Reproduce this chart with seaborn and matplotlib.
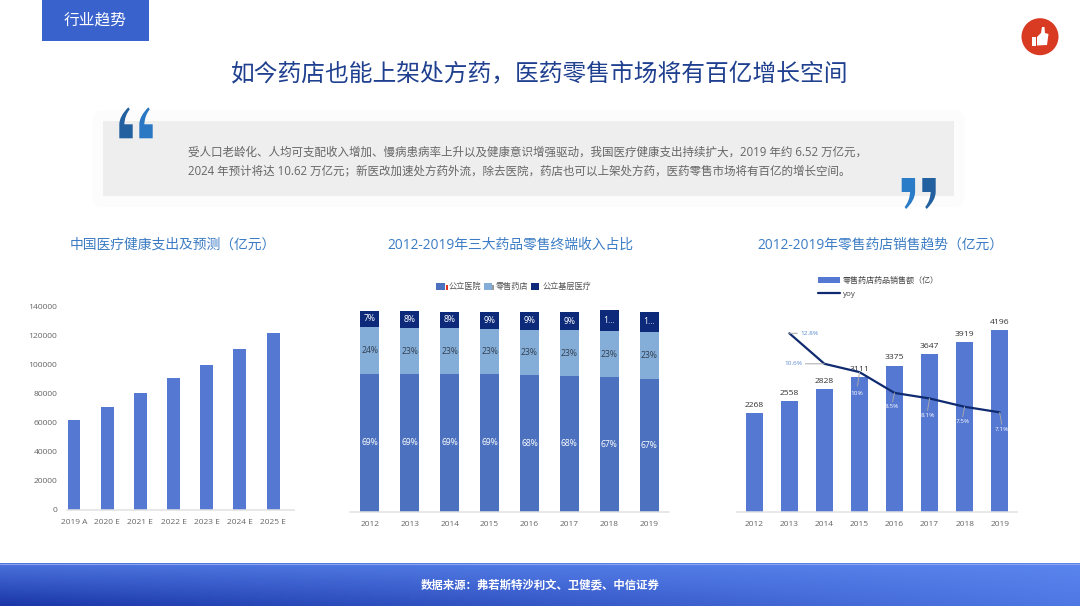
import numpy as np
import matplotlib
matplotlib.use("Agg")
import matplotlib.pyplot as plt
from matplotlib.patches import Rectangle, Circle, Polygon, PathPatch, FancyBboxPatch
from matplotlib.path import Path
from matplotlib.lines import Line2D
import seaborn as sns

# ---------- data ----------
spend_cats = ["2019 A", "2020 E", "2021 E", "2022 E", "2023 E", "2024 E", "2025 E"]
spend_vals = [61700, 70500, 80100, 91000, 100000, 110800, 121600]

years = ["2012", "2013", "2014", "2015", "2016", "2017", "2018", "2019"]
hospital = [69.0, 68.8, 69.0, 68.8, 68.5, 68.0, 67.5, 66.5]
retail = [23.5, 23.0, 22.7, 22.5, 22.3, 22.7, 22.7, 23.3]
primary = [8.0, 8.7, 8.3, 8.8, 9.3, 9.3, 10.5, 10.3]
hospital_labels = ["69%", "69%", "69%", "69%", "68%", "68%", "67%", "67%"]
retail_labels = ["24%", "23%", "23%", "23%", "23%", "23%", "23%", "23%"]
primary_labels = ["7%", "8%", "8%", "9%", "9%", "9%", "1...", "1..."]

sales = [2268, 2558, 2828, 3111, 3375, 3647, 3919, 4196]
yoy = [12.8, 10.6, 10.0, 8.5, 8.1, 7.5, 7.1]
yoy_labels = ["12.8%", "10.6%", "10%", "8.5%", "8.1%", "7.5%", "7.1%"]

main_title = "如今药店也能上架处方药，医药零售市场将有百亿增长空间"
tab_text = "行业趋势"
body_1 = "受人口老龄化、人均可支配收入增加、慢病患病率上升以及健康意识增强驱动，我国医疗健康支出持续扩大，2019 年约 6.52 万亿元，"
body_2 = "2024 年预计将达 10.62 万亿元；新医改加速处方药外流，除去医院，药店也可以上架处方药，医药零售市场将有百亿的增长空间。"
title_1 = "中国医疗健康支出及预测（亿元）"
title_2 = "2012-2019年三大药品零售终端收入占比"
title_3 = "2012-2019年零售药店销售趋势（亿元）"
source = "数据来源：弗若斯特沙利文、卫健委、中信证券"

# ---------- styles ----------
sns.set_theme(style="white")
plt.rcParams["font.family"] = ["Open Sans", "Noto Sans CJK SC", "DejaVu Sans"]
W, H = 1080, 606
BAR = "#5578D2"
C_HOSP, C_RETAIL, C_PRIM = "#4C72BF", "#84AED8", "#0D2A7A"
LINE = "#0F2A70"
TICK = "#666666"
AXIS = "#E2E2E2"
SUB = "#3B7CC4"

fig = plt.figure(figsize=(W / 100, H / 100), dpi=100, facecolor="white")


def px_axes(left, right, top, bottom, z=2):
    a = fig.add_axes([left / W, 1 - bottom / H, (right - left) / W, (bottom - top) / H], zorder=z)
    a.patch.set_alpha(0)
    return a


# ---------- page decoration ----------
bg = px_axes(0, W, 0, H, z=0)
bg.set_xlim(0, W)
bg.set_ylim(H, 0)
bg.axis("off")
bg.add_patch(Rectangle((42, 0), 106.5, 40.5, fc="#3A62CC", ec="none"))
bg.text(95.5, 20.5, tab_text, color="white", fontsize=11.3, ha="center", va="center")
bg.text(540, 75, main_title, color="#1F3F8F", fontsize=17.1, ha="center", va="center")
bg.add_patch(FancyBboxPatch((92, 110), 873, 97, boxstyle="round,pad=0,rounding_size=12", fc="#FCFCFC", ec="none"))
bg.add_patch(Rectangle((103, 121.3), 851, 74.7, fc="#EEEEEE", ec="none"))
bg.text(188, 152, body_1, color="#666666", fontsize=8.3, ha="left", va="center")
bg.text(188, 171, body_2, color="#666666", fontsize=8.3, ha="left", va="center")


def quote(x0, top, color, flip=False):
    w, h = 13.4, 31
    v = [(0, h), (0, 17), (0, 9), (9, 0), (10.5, 2), (5.5, 8), (5, 17), (13.4, 17), (13.4, h), (0, h)]
    c = [Path.MOVETO, Path.LINETO, Path.CURVE3, Path.CURVE3, Path.LINETO, Path.CURVE3, Path.CURVE3,
         Path.LINETO, Path.LINETO, Path.CLOSEPOLY]
    if flip:
        v = [(w - a, h - b) for a, b in v]
    pts = [(x0 + a, top + b) for a, b in v]
    bg.add_patch(PathPatch(Path(pts, c), fc=color, ec="none", zorder=3))


quote(119.3, 107.3, "#22609F")
quote(139.3, 107.3, "#2A78C4")
quote(901.7, 178, "#2A7CC9", flip=True)
quote(922.3, 178, "#22609F", flip=True)

bg.add_patch(Circle((1040, 36.7), 18.5, fc="#D93A22", ec="none"))
bg.add_patch(Rectangle((1032.3, 37.3), 3.4, 8.7, fc="white", ec="none", zorder=3))
bg.add_patch(Polygon([(1037, 37), (1041, 33), (1042, 27), (1044.5, 27), (1045, 33), (1048.5, 34),
                      (1047, 45), (1037, 45.5)], fc="white", ec="none", zorder=3))

# footer gradient: bilinear blend of four corner colours
tl, tr = np.array([0x4A, 0x72, 0xDC]) / 255, np.array([0x5A, 0x84, 0xEE]) / 255
bl, br = np.array([0x1A, 0x36, 0xA8]) / 255, np.array([0x4F, 0x78, 0xE4]) / 255
gu, gv = np.meshgrid(np.linspace(0, 1, 270), np.linspace(0, 1, 43))
gu, gv = gu[..., None], gv[..., None]
grad = (1 - gv) * ((1 - gu) * tl + gu * tr) + gv * ((1 - gu) * bl + gu * br)
bg.imshow(grad, extent=(0, W, 606, 563.5), aspect="auto", interpolation="bilinear", zorder=1)
bg.set_xlim(0, W)
bg.set_ylim(H, 0)
bg.add_line(Line2D([0, W], [563.5, 563.5], color="#8AA5EE", lw=0.8, zorder=2))
bg.text(540, 586, source, color="white", fontsize=8.2, fontweight="bold", ha="center", va="center", zorder=3)

for tx, t in ((173, title_1), (510, title_2), (880.5, title_3)):
    bg.text(tx, 245.5, t, color=SUB, fontsize=9.95, ha="center", va="center")

# legend slivers seen beside the chart-2 keys
for sx, sc in ((446, "#E03020"), (491.5, "#999999"), (537, "#888888")):
    bg.add_patch(Rectangle((sx, 284.5), 2, 5, fc=sc, ec="none"))


def style(a):
    sns.despine(ax=a, left=True, top=True, right=True)
    a.spines["bottom"].set_color(AXIS)
    a.spines["bottom"].set_linewidth(1.1)
    a.tick_params(axis="x", length=0, pad=6.5, labelsize=6, labelcolor=TICK)
    a.set_xlabel("")
    a.set_ylabel("")
    a.grid(False)


# ---------- chart 1 ----------
ax1 = px_axes(57.4, 294, 306.7, 509.5)
sns.barplot(x=spend_cats, y=spend_vals, color=BAR, saturation=1, width=0.39, linewidth=0, ax=ax1)
ax1.set_xlim(-0.5, 6.63)
ax1.set_ylim(0, 140000)
ax1.set_yticks(np.arange(0, 140001, 20000))
style(ax1)
ax1.spines["bottom"].set_bounds(-0.22, 6.63)
ax1.tick_params(axis="y", length=0, pad=0, labelsize=6.1, labelcolor=TICK)

# ---------- chart 2 ----------
ax2 = px_axes(350, 669, 300, 511.7)
base1 = np.array(hospital)
base2 = base1 + np.array(retail)
sns.barplot(x=years, y=hospital, color=C_HOSP, saturation=1, width=0.476, linewidth=0, label="公立医院", ax=ax2)
sns.barplot(x=years, y=retail, bottom=base1, color=C_RETAIL, saturation=1, width=0.476, linewidth=0, label="零售药店", ax=ax2)
sns.barplot(x=years, y=primary, bottom=base2, color=C_PRIM, saturation=1, width=0.476, linewidth=0, label="公立基层医疗", ax=ax2)
ax2.set_ylim(0, 105.85)
ax2.set_yticks([])
style(ax2)
for cont, labs, col in zip(ax2.containers, (hospital_labels, retail_labels, primary_labels),
                           ("white", "#333F50", "white")):
    ax2.bar_label(cont, labels=labs, label_type="center", color=col, fontsize=6.2)
ax2.legend(ncol=3, loc="center", bbox_to_anchor=(514 / W, 1 - 287 / H), bbox_transform=fig.transFigure,
           frameon=False, fontsize=5.9, handlelength=1.0, handleheight=0.95, handletextpad=0.45,
           columnspacing=0.35, labelcolor="#555555", borderpad=0)

# ---------- chart 3 ----------
ax3 = px_axes(736.8, 1017.2, 320, 511.7)
sns.barplot(x=years, y=sales, color=BAR, saturation=1, width=0.476, linewidth=0, ax=ax3)
ax3.set_ylim(0, 4427)
ax3.set_yticks([])
style(ax3)
ax3.bar_label(ax3.containers[0], labels=[str(v) for v in sales], padding=3, color="#333333", fontsize=6.1)

ax3b = ax3.twinx()
ax3b.patch.set_alpha(0)
line_pos = np.arange(1, len(years))
sns.lineplot(x=line_pos, y=yoy, color=LINE, linewidth=1.6, ax=ax3b)
ax3b.set_ylim(-0.07, 13.76)
ax3b.set_yticks([])
ax3b.set_ylabel("")
sns.despine(ax=ax3b, left=True, top=True, right=True, bottom=True)
ax3b.set_xlim(-0.5, 7.5)

offsets = [(20, 0), (-31, 0), (-3, -21), (-3, -14), (-2, -17), (-2, -15), (2, -17)]
anchors = [(8, 0), (-19, 0), (-2, -14), (-2, -9), (-2, -12), (-2, -10), (2, -12)]
cols = ["#5B8BD0", "#5B8BD0", "white", "white", "white", "white", "white"]
for x, v, lab, off, anc, col in zip(line_pos, yoy, yoy_labels, offsets, anchors, cols):
    ax3b.annotate(lab, xy=(x, v), xytext=off, textcoords="offset pixels", ha="center", va="center",
                  color=col, fontsize=4.6, zorder=5)
    ax3b.annotate("", xy=(x, v), xytext=anc, textcoords="offset pixels",
                  arrowprops=dict(arrowstyle="-", color="#A6A6A6", lw=0.7, shrinkA=0, shrinkB=0), zorder=4)

h3 = [Rectangle((0, 0), 1, 1, fc=BAR, ec="none"), Line2D([0], [0], color=LINE, lw=1.6)]
ax3b.legend(h3, ["零售药店药品销售额（亿）", "yoy"], loc="upper left", bbox_to_anchor=(818 / W, 1 - 276.5 / H),
            bbox_transform=fig.transFigure, frameon=False, fontsize=5.8, handlelength=2.75, handleheight=0.7,
            handletextpad=0.3, labelspacing=0.75, labelcolor="#444444", borderpad=0, borderaxespad=0)

fig.savefig("out.png", dpi=100, facecolor="white")
